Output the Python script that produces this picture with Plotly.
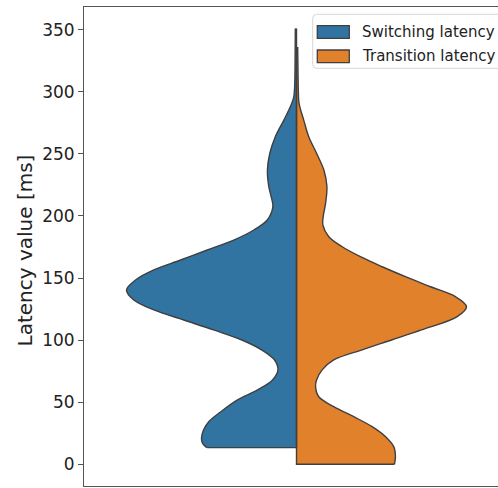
import plotly.graph_objects as go

# Latency values (ms) along each violin half and the relative KDE half-width there
switching_latency = [13.4, 14.2, 17, 20.9, 27.6, 34.3, 42.1, 51.8, 59.9, 67.9, 76, 84, 92,
                     100.1, 108.2, 116.2, 124.3, 132.3, 140.4, 148.4, 156.5, 164.5, 172.6,
                     180.6, 188.7, 196.7, 207.5, 215.5, 223.6, 237, 250.5, 264, 277, 290,
                     296, 304, 315, 330, 351]
switching_density = [0.524, 0.535, 0.553, 0.559, 0.547, 0.516, 0.447, 0.347, 0.229, 0.141,
                     0.109, 0.129, 0.203, 0.321, 0.488, 0.663, 0.839, 0.957, 1.0, 0.947,
                     0.839, 0.682, 0.525, 0.369, 0.251, 0.172, 0.139, 0.149, 0.163, 0.171,
                     0.157, 0.124, 0.075, 0.030, 0.016, 0.011, 0.009, 0.008, 0.007]

transition_latency = [0, 6.1, 14.2, 22.2, 30.3, 38.3, 46.4, 54.4, 62.5, 67.9, 76, 84, 92,
                      100.1, 108.2, 118.9, 126.9, 135, 143, 151.1, 159.1, 167.2, 175.2,
                      183.3, 192.7, 199.4, 210.2, 223.6, 237, 250.5, 263.8, 277, 290.7,
                      300, 315, 336]
transition_density = [0.576, 0.582, 0.572, 0.524, 0.445, 0.337, 0.219, 0.131, 0.112, 0.118,
                      0.151, 0.219, 0.382, 0.559, 0.735, 0.945, 1.0, 0.935, 0.788, 0.641,
                      0.504, 0.376, 0.269, 0.190, 0.155, 0.157, 0.171, 0.179, 0.161, 0.118,
                      0.072, 0.043, 0.015, 0.011, 0.009, 0.007]

series_names = ["Switching latency", "Transition latency"]
y_ticks = [0, 50, 100, 150, 200, 250, 300, 350]

BLUE = "#3274a1"
ORANGE = "#e1812c"
EDGE = "#3f3f3f"
FONT = "DejaVu Sans"
HALF_WIDTH = 0.4  # half of the violin width in category units

W, H = 498, 488
ML, MR, MT, MB = 84, 0, 7, 2
PW, PH = W - ML - MR, H - MT - MB


def px_x(px):
    return (px - ML) / PW


def px_y(py):
    return (H - MB - py) / PH


fig = go.Figure()

halves = [
    (switching_latency, switching_density, -1, BLUE),
    (transition_latency, transition_density, 1, ORANGE),
]

# Filled outer KDE curve of each half, filled back to the centre line
for lat, dens, side, color in halves:
    fig.add_trace(go.Scatter(
        x=[side * d * HALF_WIDTH for d in dens], y=lat,
        mode="lines", line=dict(color=EDGE, width=1.4, shape="spline", smoothing=1.0),
        fill="tozerox", fillcolor=color, showlegend=False, hoverinfo="skip",
    ))

# Straight edges: the cut at the lowest value and the shared centre line
for lat, dens, side, color in halves:
    fig.add_trace(go.Scatter(
        x=[side * dens[0] * HALF_WIDTH, 0, 0], y=[lat[0], lat[0], lat[-1]],
        mode="lines", line=dict(color=EDGE, width=1.4),
        showlegend=False, hoverinfo="skip",
    ))

fig.update_xaxes(
    range=[-0.5, -0.5 + PW / 425.0], showticklabels=False, ticks="",
    showgrid=False, zeroline=False, showline=True, linecolor="#555555",
    linewidth=1, mirror=True,
)
fig.update_yaxes(
    range=[-17.5, 368.3], tickvals=y_ticks, ticktext=[str(v) for v in y_ticks],
    ticks="outside", ticklen=5, tickcolor="#555555", tickwidth=1,
    tickfont=dict(family=FONT, size=17, color="#222222"),
    showgrid=False, zeroline=False, showline=True, linecolor="#555555",
    linewidth=1, mirror=False,
)

# Legend box with patch swatches
lx0, lx1, ly_top, ly_bot = 312.7, 520, 14.3, 68.3
rx, ry = 4 / PW, 4 / PH
x0, x1, y0, y1 = px_x(lx0), px_x(lx1), px_y(ly_bot), px_y(ly_top)
legend_path = (
    f"M {x0 + rx},{y0} L {x1},{y0} L {x1},{y1} L {x0 + rx},{y1} "
    f"Q {x0},{y1} {x0},{y1 - ry} L {x0},{y0 + ry} Q {x0},{y0} {x0 + rx},{y0} Z"
)
shapes = [dict(type="path", xref="paper", yref="paper", path=legend_path,
               line=dict(color="#d6d6d6", width=1), fillcolor="rgba(255,255,255,0.8)",
               layer="above")]
annotations = []
for name, color, (top, bot) in zip(series_names, [BLUE, ORANGE], [(25.7, 38.3), (50.0, 62.7)]):
    shapes.append(dict(type="rect", xref="paper", yref="paper",
                       x0=px_x(317.3), x1=px_x(349.3), y0=px_y(bot), y1=px_y(top),
                       line=dict(color=EDGE, width=1.3), fillcolor=color, layer="above"))
    annotations.append(dict(text=name, xref="paper", yref="paper",
                            x=px_x(360), y=px_y((top + bot) / 2), xanchor="left",
                            yanchor="middle", showarrow=False,
                            font=dict(family=FONT, size=15, color="#222222")))

annotations.append(dict(text="Latency value [ms]", xref="paper", yref="paper",
                        x=px_x(25), y=px_y(250.5), xanchor="center", yanchor="middle",
                        textangle=-90, showarrow=False,
                        font=dict(family=FONT, size=20, color="#222222")))

fig.update_layout(
    width=W, height=H, margin=dict(l=ML, r=MR, t=MT, b=MB, pad=0),
    paper_bgcolor="white", plot_bgcolor="white",
    showlegend=False, shapes=shapes, annotations=annotations,
)

fig.write_html("out.html")
